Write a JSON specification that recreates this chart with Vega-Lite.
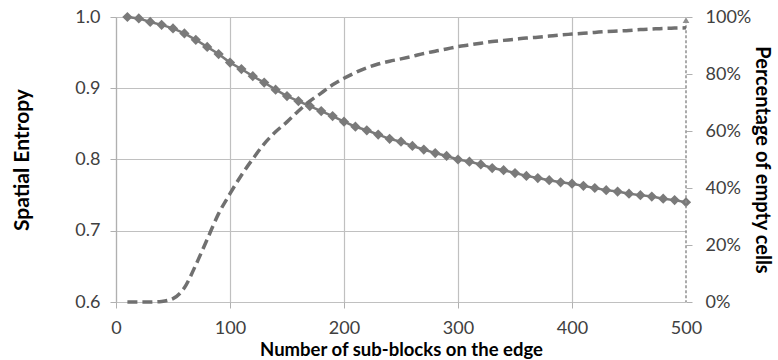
{
  "$schema": "https://vega.github.io/schema/vega-lite/v6.json",
  "width": 570,
  "height": 285,
  "autosize": {"type": "none"},
  "padding": {"left": 116, "top": 17, "right": 92, "bottom": 58},
  "background": "white",
  "config": {
    "view": {"stroke": null},
    "font": "Lato",
    "axis": {"labelFont": "Lato", "titleFont": "Lato", "labelColor": "#404040", "titleColor": "#000000", "labelFontSize": 18, "gridColor": "#C0C0C0", "domainColor": "#B0B0B0", "tickColor": "#B0B0B0", "tickSize": 6, "gridWidth": 1.2, "domainWidth": 1.2}
  },
  "datasets": {
    "entropy": [
      {"n": 10, "e": 1.0}, {"n": 20, "e": 0.998}, {"n": 30, "e": 0.993}, {"n": 40, "e": 0.989}, {"n": 50, "e": 0.984},
      {"n": 60, "e": 0.977}, {"n": 70, "e": 0.968}, {"n": 80, "e": 0.958}, {"n": 90, "e": 0.948}, {"n": 100, "e": 0.936},
      {"n": 110, "e": 0.927}, {"n": 120, "e": 0.917}, {"n": 130, "e": 0.908}, {"n": 140, "e": 0.898}, {"n": 150, "e": 0.889},
      {"n": 160, "e": 0.882}, {"n": 170, "e": 0.875}, {"n": 180, "e": 0.868}, {"n": 190, "e": 0.861}, {"n": 200, "e": 0.853},
      {"n": 210, "e": 0.846}, {"n": 220, "e": 0.841}, {"n": 230, "e": 0.835}, {"n": 240, "e": 0.829}, {"n": 250, "e": 0.825},
      {"n": 260, "e": 0.819}, {"n": 270, "e": 0.814}, {"n": 280, "e": 0.809}, {"n": 290, "e": 0.805}, {"n": 300, "e": 0.800},
      {"n": 310, "e": 0.797}, {"n": 320, "e": 0.793}, {"n": 330, "e": 0.788}, {"n": 340, "e": 0.785}, {"n": 350, "e": 0.781},
      {"n": 360, "e": 0.777}, {"n": 370, "e": 0.774}, {"n": 380, "e": 0.771}, {"n": 390, "e": 0.768}, {"n": 400, "e": 0.766},
      {"n": 410, "e": 0.763}, {"n": 420, "e": 0.760}, {"n": 430, "e": 0.757}, {"n": 440, "e": 0.755}, {"n": 450, "e": 0.752},
      {"n": 460, "e": 0.750}, {"n": 470, "e": 0.748}, {"n": 480, "e": 0.745}, {"n": 490, "e": 0.743}, {"n": 500, "e": 0.740}
    ],
    "empty": [
      {"n": 10, "p": 0.0}, {"n": 20, "p": 0.0}, {"n": 30, "p": 0.0}, {"n": 40, "p": 0.002}, {"n": 50, "p": 0.012},
      {"n": 60, "p": 0.05}, {"n": 70, "p": 0.13}, {"n": 80, "p": 0.22}, {"n": 90, "p": 0.31}, {"n": 100, "p": 0.38},
      {"n": 110, "p": 0.445}, {"n": 120, "p": 0.502}, {"n": 130, "p": 0.555}, {"n": 140, "p": 0.597}, {"n": 150, "p": 0.632},
      {"n": 160, "p": 0.67}, {"n": 170, "p": 0.705}, {"n": 180, "p": 0.733}, {"n": 190, "p": 0.762}, {"n": 200, "p": 0.785},
      {"n": 210, "p": 0.805}, {"n": 220, "p": 0.822}, {"n": 230, "p": 0.835}, {"n": 240, "p": 0.845}, {"n": 250, "p": 0.853},
      {"n": 260, "p": 0.862}, {"n": 270, "p": 0.872}, {"n": 280, "p": 0.88}, {"n": 290, "p": 0.888}, {"n": 300, "p": 0.896},
      {"n": 310, "p": 0.902}, {"n": 320, "p": 0.908}, {"n": 330, "p": 0.914}, {"n": 340, "p": 0.918}, {"n": 350, "p": 0.922},
      {"n": 360, "p": 0.926}, {"n": 370, "p": 0.929}, {"n": 380, "p": 0.933}, {"n": 390, "p": 0.937}, {"n": 400, "p": 0.94},
      {"n": 410, "p": 0.943}, {"n": 420, "p": 0.946}, {"n": 430, "p": 0.949}, {"n": 440, "p": 0.951}, {"n": 450, "p": 0.953},
      {"n": 460, "p": 0.956}, {"n": 470, "p": 0.958}, {"n": 480, "p": 0.96}, {"n": 490, "p": 0.961}, {"n": 500, "p": 0.962}
    ],
    "marker": [{"n": 500, "p": 0.989, "p0": 0}]
  },
  "encoding": {
    "x": {"field": "n", "type": "quantitative", "scale": {"domain": [0, 500], "nice": false},
      "axis": {"values": [0, 100, 200, 300, 400, 500], "labelFlush": false, "title": "Number of sub-blocks on the edge", "titleFontSize": 18.5, "titleFontWeight": "bold", "titlePadding": 3, "labelPadding": 11, "domain": false,
        "gridOpacity": {"condition": {"test": "datum.value === 500", "value": 0}, "value": 1},
        "tickOpacity": {"condition": {"test": "datum.value === 500", "value": 0}, "value": 1}}}
  },
  "layer": [
    {
      "data": {"name": "entropy"},
      "encoding": {
        "y": {"field": "e", "type": "quantitative", "scale": {"domain": [0.6, 1.0], "nice": false, "zero": false},
          "axis": {"values": [0.6, 0.7, 0.8, 0.9, 1.0], "format": ".1f", "labelFlush": false, "title": "Spatial Entropy", "titleFontSize": 21, "titleFontWeight": "bold", "titlePadding": 42, "labelPadding": 10}}
      },
      "layer": [
        {"mark": {"type": "line", "color": "#7A7A7A", "strokeWidth": 2.5}},
        {"mark": {"type": "point", "shape": "diamond", "filled": true, "size": 105, "color": "#7A7A7A", "opacity": 1}}
      ]
    },
    {
      "layer": [
        {
          "data": {"name": "marker"},
          "mark": {"type": "rule", "color": "#909090", "strokeWidth": 1.5, "strokeDash": [3, 2]},
          "encoding": {
            "y": {"field": "p", "type": "quantitative", "scale": {"domain": [0, 1], "nice": false},
              "axis": {"orient": "right", "values": [0, 0.2, 0.4, 0.6, 0.8, 1.0], "format": ".0%", "labelFlush": false, "grid": false, "domain": false, "title": "Percentage of empty cells", "titleFontSize": 20, "titleFontWeight": "bold", "titlePadding": 1, "labelPadding": 13}},
            "y2": {"field": "p0"}
          }
        },
        {
          "data": {"name": "empty"},
          "mark": {"type": "line", "color": "#707070", "strokeWidth": 3.5, "strokeDash": [10, 5], "interpolate": "monotone"},
          "encoding": {"y": {"field": "p", "type": "quantitative"}}
        },
        {
          "data": {"name": "marker"},
          "mark": {"type": "point", "shape": "triangle-up", "filled": true, "size": 45, "color": "#909090", "opacity": 1},
          "encoding": {"y": {"field": "p", "type": "quantitative"}}
        }
      ]
    }
  ],
  "resolve": {"scale": {"y": "independent"}, "axis": {"y": "independent"}}
}
